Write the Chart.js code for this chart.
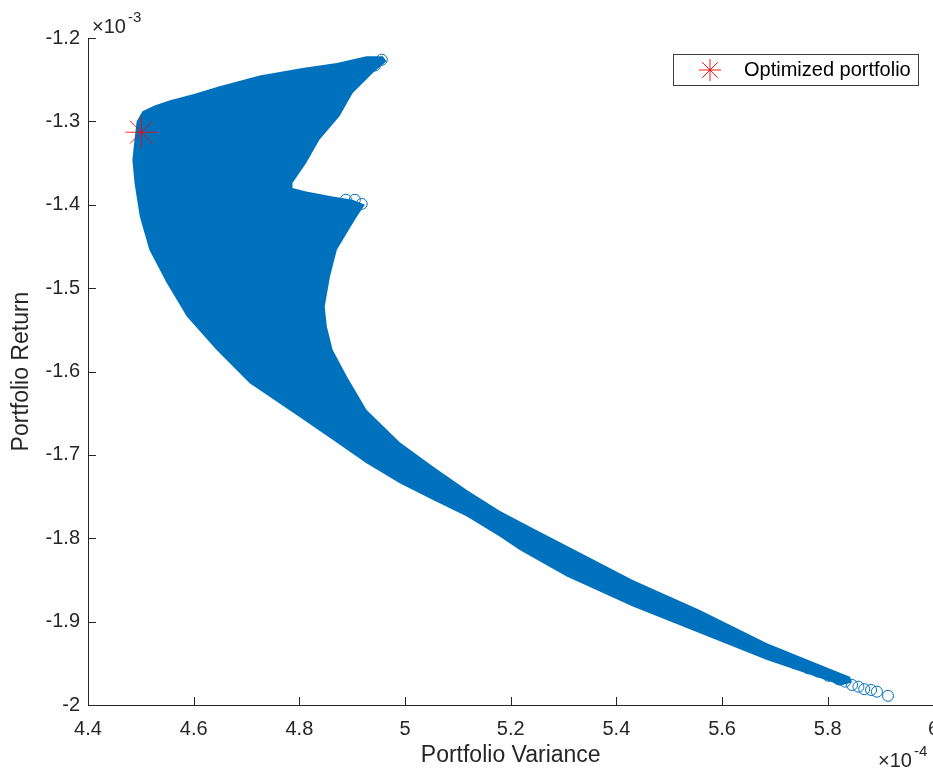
<!DOCTYPE html>
<html>
<head>
<meta charset="utf-8">
<script src="https://cdn.jsdelivr.net/npm/chart.js@4.4.1/dist/chart.umd.min.js"></script>
<style>
  html, body { margin: 0; padding: 0; overflow: hidden; background: #fff; }
  #wrap { position: absolute; left: 0; top: 0; width: 951px; height: 769px; }
</style>
</head>
<body>
<div id="wrap"><canvas id="frontier" width="951" height="769"></canvas></div>
<script>
// outline of the simulated portfolio cloud (variance x1e-4, return x1e-3)
// starts at the leftmost point, ends with that point again and then the tail tip,
// so the 'shape' fill is not clipped
const cloudVariance = [
  4.484, 4.486, 4.488, 4.492, 4.503, 4.526, 4.554, 4.602, 4.649, 4.725,
  4.806, 4.871, 4.927, 4.958, 4.965, 4.939, 4.901, 4.876, 4.838, 4.813,
  4.787, 4.787, 4.813, 4.863, 4.901, 4.924, 4.909, 4.890, 4.871, 4.858,
  4.848, 4.852, 4.863, 4.890, 4.927, 4.990, 5.053, 5.117, 5.179, 5.242,
  5.306, 5.431, 5.558, 5.685, 5.810, 5.842, 5.846, 5.823, 5.810, 5.685,
  5.558, 5.431, 5.306, 5.217, 5.179, 5.117, 5.053, 4.990, 4.927, 4.863,
  4.801, 4.706, 4.643, 4.587, 4.549, 4.516, 4.498, 4.488, 4.484, 5.846
];
const cloudReturn = [
  -1.346, -1.334, -1.322, -1.300, -1.288, -1.281, -1.275, -1.267, -1.258, -1.245,
  -1.236, -1.230, -1.222, -1.222, -1.228, -1.242, -1.266, -1.294, -1.322, -1.350,
  -1.374, -1.380, -1.384, -1.390, -1.394, -1.400, -1.414, -1.434, -1.454, -1.486,
  -1.522, -1.546, -1.574, -1.606, -1.646, -1.685, -1.714, -1.742, -1.767, -1.788,
  -1.809, -1.850, -1.886, -1.926, -1.958, -1.966, -1.973, -1.977, -1.973, -1.946,
  -1.914, -1.882, -1.846, -1.814, -1.798, -1.774, -1.754, -1.734, -1.710, -1.682,
  -1.655, -1.614, -1.574, -1.534, -1.494, -1.454, -1.414, -1.374, -1.346, -1.973
];

// single circles that stand out at the edges of the cloud
const edgeVariance = [
  5.914, 5.893, 5.882, 5.869, 5.858, 5.846, 5.833, 5.820, 5.801, 5.782,
  5.763, 5.738, 4.956, 4.943, 4.926, 4.916, 4.918, 4.905, 4.888
];
const edgeReturn = [
  -1.989, -1.984, -1.982, -1.981, -1.978, -1.976, -1.972, -1.969, -1.965, -1.960,
  -1.956, -1.950, -1.226, -1.233, -1.231, -1.242, -1.399, -1.394, -1.394
];

const optVariance = [4.501];
const optReturn = [-1.313];

const xTicks = [4.4, 4.6, 4.8, 5, 5.2, 5.4, 5.6, 5.8, 6];
const xTickLabels = ['4.4', '4.6', '4.8', '5', '5.2', '5.4', '5.6', '5.8', '6'];
const yTicks = [-2, -1.9, -1.8, -1.7, -1.6, -1.5, -1.4, -1.3, -1.2];
const yTickLabels = ['-2', '-1.9', '-1.8', '-1.7', '-1.6', '-1.5', '-1.4', '-1.3', '-1.2'];

const blue = '#0072BD';
const ink = '#262626';
const fontFamily = '"Liberation Sans", Arial, Helvetica, sans-serif';

const toPoints = (xs, ys) => xs.map((x, i) => ({ x: x, y: ys[i] }));

// inward tick marks, exponent labels and the boxed legend
const matlabLook = {
  id: 'matlabLook',
  afterDraw(chart) {
    const ctx = chart.ctx;
    const xs = chart.scales.x;
    const ys = chart.scales.y;
    const area = chart.chartArea;
    ctx.save();
    ctx.strokeStyle = ink;
    ctx.lineWidth = 1;
    ctx.beginPath();
    xs.ticks.forEach(t => {
      const px = Math.round(xs.getPixelForValue(t.value)) + 0.5;
      ctx.moveTo(px, area.bottom);
      ctx.lineTo(px, area.bottom - 8);
    });
    ys.ticks.forEach(t => {
      const py = Math.round(ys.getPixelForValue(t.value)) + 0.5;
      ctx.moveTo(area.left, py);
      ctx.lineTo(area.left + 8, py);
    });
    ctx.stroke();

    ctx.fillStyle = ink;
    ctx.textBaseline = 'alphabetic';
    ctx.textAlign = 'left';
    const exponent = (x, y, power) => {
      ctx.font = '20px ' + fontFamily;
      ctx.fillText('\u00d710', x, y);
      const w = ctx.measureText('\u00d710').width;
      ctx.font = '15px ' + fontFamily;
      ctx.fillText(power, x + w + 2, y - 11);
    };
    exponent(92, 33, '-3');
    exponent(878, 767, '-4');

    // legend
    const lx = 673.5, ly = 54.5, lw = 245, lh = 31;
    ctx.fillStyle = '#ffffff';
    ctx.fillRect(lx, ly, lw, lh);
    ctx.strokeStyle = '#3a3a3a';
    ctx.strokeRect(lx, ly, lw, lh);
    const cx = 710, cy = 70, r = 11;
    ctx.strokeStyle = 'rgba(255, 0, 0, 0.9)';
    ctx.beginPath();
    for (let k = 0; k < 4; k++) {
      const a = k * Math.PI / 4;
      ctx.moveTo(cx - r * Math.cos(a), cy - r * Math.sin(a));
      ctx.lineTo(cx + r * Math.cos(a), cy + r * Math.sin(a));
    }
    ctx.stroke();
    ctx.fillStyle = '#000';
    ctx.font = '20px ' + fontFamily;
    ctx.textBaseline = 'middle';
    ctx.fillText(chart.data.datasets[2].label, 744, 70);
    ctx.restore();
  }
};

new Chart(document.getElementById('frontier'), {
  type: 'scatter',
  data: {
    datasets: [
      {
        type: 'line',
        label: 'Portfolios',
        data: toPoints(cloudVariance, cloudReturn),
        fill: 'shape',
        backgroundColor: blue,
        borderWidth: 0,
        pointRadius: 0,
        tension: 0,
        order: 3
      },
      {
        label: 'Edge portfolios',
        data: toPoints(edgeVariance, edgeReturn),
        pointStyle: 'circle',
        pointRadius: 5.5,
        borderColor: blue,
        backgroundColor: 'rgba(0,0,0,0)',
        borderWidth: 1,
        order: 2
      },
      {
        label: 'Optimized portfolio',
        data: toPoints(optVariance, optReturn),
        pointStyle: 'star',
        pointRadius: 16,
        borderColor: 'rgba(255, 0, 0, 0.85)',
        backgroundColor: 'rgba(0,0,0,0)',
        borderWidth: 1,
        order: 1
      }
    ]
  },
  options: {
    responsive: false,
    animation: false,
    layout: { padding: { left: 0, top: 38, right: 10, bottom: 0 } },
    plugins: {
      legend: { display: false },
      tooltip: { enabled: false }
    },
    scales: {
      x: {
        type: 'linear',
        position: 'bottom',
        min: 4.4,
        max: 6,
        afterBuildTicks: s => { s.ticks = xTicks.map(v => ({ value: v })); },
        afterFit: s => { s.height = 64; },
        ticks: {
          callback: (v, i) => xTickLabels[i],
          color: ink,
          font: { family: fontFamily, size: 20 },
          padding: 12,
          maxRotation: 0
        },
        grid: { drawOnChartArea: false, drawTicks: false },
        border: { display: true, color: ink, width: 1 },
        title: {
          display: true,
          text: 'Portfolio Variance',
          color: ink,
          font: { family: fontFamily, size: 23 },
          padding: { top: 0, bottom: 0 }
        }
      },
      y: {
        type: 'linear',
        min: -2,
        max: -1.2,
        afterBuildTicks: s => { s.ticks = yTicks.map(v => ({ value: v })); },
        afterFit: s => { s.width = 88; },
        ticks: {
          callback: (v, i) => yTickLabels[i],
          color: ink,
          font: { family: fontFamily, size: 20 },
          padding: 8
        },
        grid: { drawOnChartArea: false, drawTicks: false },
        border: { display: true, color: ink, width: 1 },
        title: {
          display: true,
          text: 'Portfolio Return',
          color: ink,
          font: { family: fontFamily, size: 23 },
          padding: { top: 8, bottom: 0 }
        }
      }
    }
  },
  plugins: [matlabLook]
});
</script>
</body>
</html>
